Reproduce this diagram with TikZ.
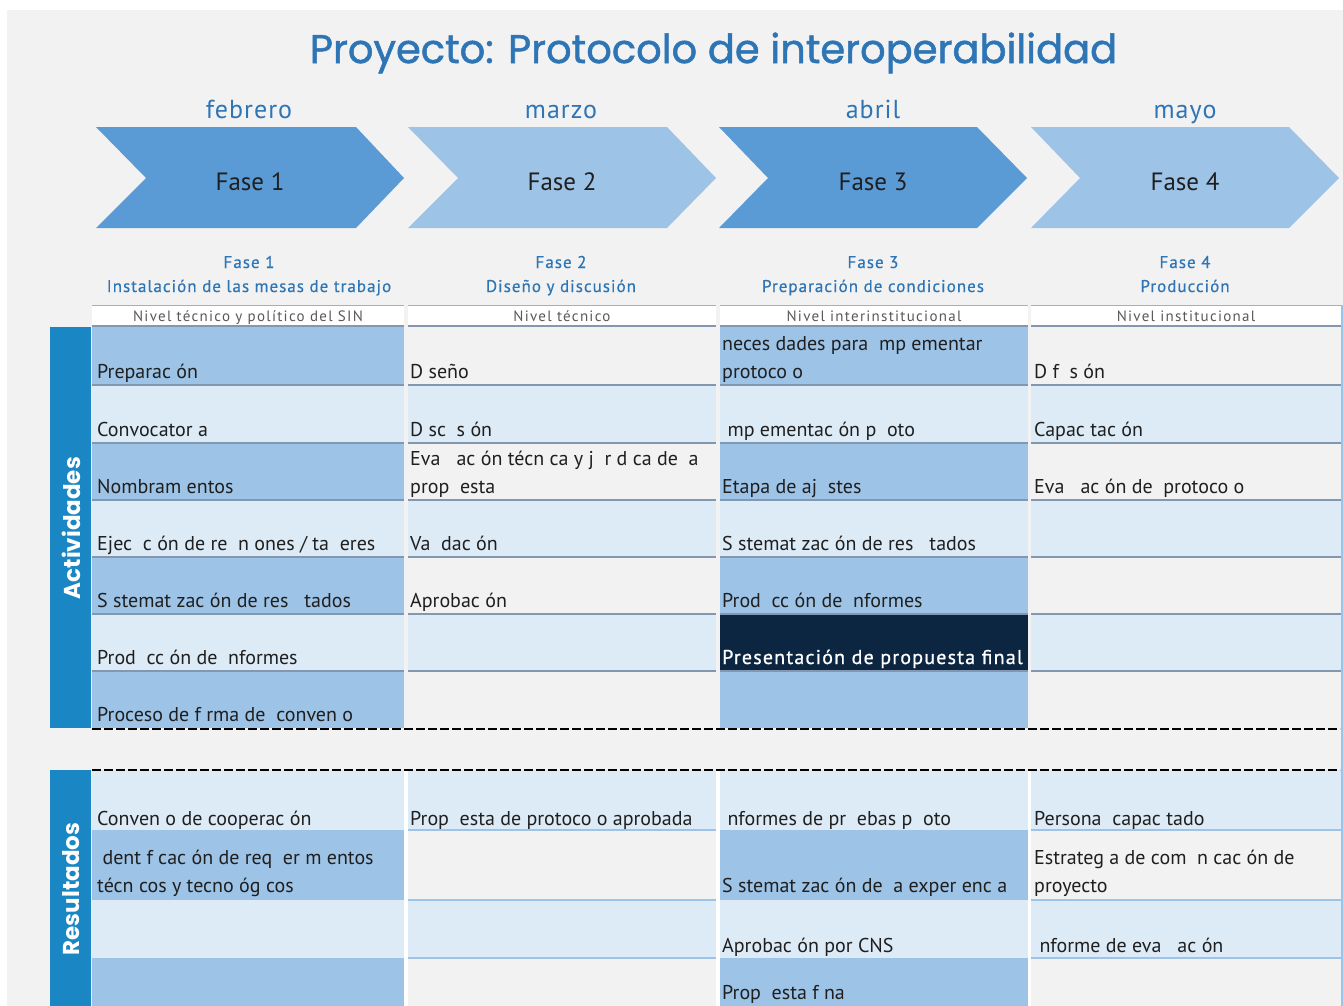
\documentclass[tikz,border=0pt]{standalone}
\usepackage{fontspec}
\setmainfont{PT Sans}
\newfontfamily\titlefont{Poppins}[FakeBold=1.3]
\newfontfamily\sidefont{Poppins}
\newfontfamily\monthfont{PT Sans}[LetterSpace=4]
\newfontfamily\subfont{PT Sans}[LetterSpace=6, FakeBold=0.5]
\newfontfamily\nivfont{PT Sans}[LetterSpace=8.5]
\newfontfamily\presfont{PT Sans}[LetterSpace=6, FakeBold=0.8]
\definecolor{pagebg}{HTML}{F2F2F2}
\definecolor{titleblue}{HTML}{2E75B6}
\definecolor{chevA}{HTML}{5B9BD5}
\definecolor{chevB}{HTML}{9DC3E6}
\definecolor{dkcell}{HTML}{9DC3E6}
\definecolor{ltcell}{HTML}{DDEBF7}
\definecolor{navy}{HTML}{0C2641}
\definecolor{barblue}{HTML}{1A86C4}
\definecolor{rowline}{HTML}{8497B0}
\definecolor{txt}{HTML}{1F1F1F}
\definecolor{nivtxt}{HTML}{595959}
\definecolor{nivtop}{HTML}{A9A9CC}
\tikzset{
  celltext/.style={anchor=base west, inner sep=0pt, text=txt, font=\fontsize{20}{23}\selectfont},
  month/.style={anchor=base, inner sep=0pt, text=titleblue, font=\monthfont\fontsize{26}{28}\selectfont},
  chevtext/.style={anchor=base, inner sep=0pt, text=txt, font=\fontsize{25}{28}\selectfont},
  subtext/.style={anchor=base, inner sep=0pt, text=titleblue, font=\subfont\fontsize{17}{19}\selectfont},
  nivtext/.style={anchor=base, inner sep=0pt, text=nivtxt, font=\nivfont\fontsize{15}{17}\selectfont},
  sidelabel/.style={inner sep=0pt, text=white, rotate=90, font=\sidefont\bfseries\fontsize{23}{26}\selectfont},
  aline/.style={draw=rowline, line width=2.5pt},
  rline/.style={draw=dkcell, line width=2.5pt},
  dashsep/.style={draw=black, line width=2.4pt, dash pattern=on 9pt off 3pt},
}
\newcommand{\cellbox}[5]{\fill[#5] (#1,#2) rectangle (#3,#4);}
\begin{document}
\begin{tikzpicture}[x=1pt,y=-1pt]
\useasboundingbox (0,0) rectangle (1343,1005);
\fill[white] (0,0) rectangle (1343,1005);
\fill[pagebg] (7,10) rectangle (1343,1010);

% title
\node[anchor=base, inner sep=0pt, text=titleblue, font=\titlefont\fontsize{40}{44}\selectfont] (title) at (713.5,63) {Proyecto: Protocolo de interoperabilidad};

% months
\node[month] (m1) at (249,118) {febrero};
\node[month] (m2) at (561,118) {marzo};
\node[month] (m3) at (873,118) {abril};
\node[month] (m4) at (1185,118) {mayo};

% chevrons
\fill[chevA] (96,127) -- (356,127) -- (404,178) -- (356,228) -- (96,228) -- (146,178) -- cycle;
\fill[chevB] (408,127) -- (667,127) -- (716,178) -- (667,228) -- (408,228) -- (458,178) -- cycle;
\fill[chevA] (719,127) -- (977,127) -- (1027,178) -- (977,228) -- (719,228) -- (768,178) -- cycle;
\fill[chevB] (1031,127) -- (1289,127) -- (1339,178) -- (1289,228) -- (1031,228) -- (1080,178) -- cycle;
\node[chevtext] (f1) at (250,190) {Fase 1};
\node[chevtext] (f2) at (562,190) {Fase 2};
\node[chevtext] (f3) at (873,190) {Fase 3};
\node[chevtext] (f4) at (1185,190) {Fase 4};

% sub headings
\node[subtext] (s1a) at (249,268) {Fase 1};
\node[subtext] (s1b) at (249,292) {Instalación de las mesas de trabajo};
\node[subtext] (s2a) at (561,268) {Fase 2};
\node[subtext] (s2b) at (561,292) {Diseño y discusión};
\node[subtext] (s3a) at (873,268) {Fase 3};
\node[subtext] (s3b) at (873,292) {Preparación de condiciones};
\node[subtext] (s4a) at (1185,268) {Fase 4};
\node[subtext] (s4b) at (1185,292) {Producción};

% nivel header row
\foreach \xa/\xb in {92/404,408/716,720/1028,1031/1341}{
  \fill[white] (\xa,305) rectangle (\xb,326);
  \draw[nivtop, line width=1pt] (\xa,305.5) -- (\xb,305.5);
  \draw[rowline, line width=2pt] (\xa,326) -- (\xb,326);
}
\node[nivtext] (n1) at (248,321) {Nivel técnico y político del SIN};
\node[nivtext] (n2) at (562,321) {Nivel técnico};
\node[nivtext] (n3) at (874,321) {Nivel interinstitucional};
\node[nivtext] (n4) at (1186,321) {Nivel institucional};

% ---------- Activities cells ----------
% col1
\cellbox{92}{327}{404}{385}{dkcell}
\cellbox{92}{385}{404}{443}{ltcell}
\cellbox{92}{443}{404}{500}{dkcell}
\cellbox{92}{500}{404}{557}{ltcell}
\cellbox{92}{557}{404}{614}{dkcell}
\cellbox{92}{614}{404}{671}{ltcell}
\cellbox{92}{671}{404}{728}{dkcell}
% col2
\cellbox{408}{385}{716}{443}{ltcell}
\cellbox{408}{500}{716}{557}{ltcell}
\cellbox{408}{614}{716}{671}{ltcell}
% col3
\cellbox{720}{327}{1028}{385}{dkcell}
\cellbox{720}{385}{1028}{443}{ltcell}
\cellbox{720}{443}{1028}{500}{dkcell}
\cellbox{720}{500}{1028}{557}{ltcell}
\cellbox{720}{557}{1028}{614}{dkcell}
\cellbox{720}{614}{1028}{671}{navy}
\cellbox{720}{671}{1028}{728}{dkcell}
% col4
\cellbox{1031}{385}{1341}{443}{ltcell}
\cellbox{1031}{500}{1341}{557}{ltcell}
\cellbox{1031}{614}{1341}{671}{ltcell}
% row lines
\foreach \yy in {385,443,500,557,614,671}{
  \foreach \xa/\xb in {92/404,408/716,720/1028,1031/1341}{
    \draw[aline] (\xa,\yy) -- (\xb,\yy);
  }
}

% ---------- Results cells ----------
\cellbox{92}{770}{404}{830}{ltcell}
\cellbox{92}{830}{404}{900}{dkcell}
\cellbox{92}{900}{404}{958}{ltcell}
\cellbox{92}{958}{404}{1010}{dkcell}
\cellbox{408}{770}{716}{830}{ltcell}
\cellbox{408}{900}{716}{958}{ltcell}
\cellbox{720}{770}{1028}{830}{ltcell}
\cellbox{720}{830}{1028}{900}{dkcell}
\cellbox{720}{900}{1028}{958}{ltcell}
\cellbox{720}{958}{1028}{1010}{dkcell}
\cellbox{1031}{770}{1341}{830}{ltcell}
\cellbox{1031}{900}{1341}{958}{ltcell}
\foreach \yy in {830,900,958}{
  \draw[rline] (408,\yy) -- (716,\yy);
  \draw[rline] (1031,\yy) -- (1341,\yy);
}
\fill[white] (404,770) rectangle (408,1010);
\fill[white] (716,770) rectangle (720,1010);
\fill[white] (1028,770) rectangle (1031,1010);
\draw[dkcell, line width=2pt] (1342,305) -- (1342,1010);

% side labels
\fill[barblue] (50,327) rectangle (91,728);
\fill[barblue] (50,770) rectangle (91,1010);
\node[sidelabel] (act) at (71,528) {Actividades};
\node[sidelabel] (res) at (71,889) {Resultados};

% dashed separators
\coordinate (d1a) at (92,729);
\coordinate (d1b) at (1340,729);
\coordinate (d2a) at (92,770);
\coordinate (d2b) at (1340,770);
\draw[dashsep] (d1a) -- (d1b);
\draw[dashsep] (d2a) -- (d2b);

% ---------- Activities texts ----------
\node[celltext] (a11) at (97,378) {Preparac ón};
\node[celltext] (a12) at (97,436) {Convocator a};
\node[celltext] (a13) at (97,493) {Nombram entos};
\node[celltext] (a14) at (97,550) {Ejec\ \ c ón de re\ \ n ones / ta\ \ eres};
\node[celltext] (a15) at (97,607) {S stemat zac ón de res\ \ \ tados};
\node[celltext] (a16) at (97,664) {Prod\ \ cc ón de\ \ nformes};
\node[celltext] (a17) at (97,721) {Proceso de f rma de\ \ conven o};

\node[celltext] (a21) at (410,378) {D seño};
\node[celltext] (a22) at (410,436) {D sc\ \ s ón};
\node[celltext] (a23a) at (410,465) {Eva\ \ \ ac ón técn ca y j\ \ r d ca de\ \ a};
\node[celltext] (a23b) at (410,493) {prop\ \ esta};
\node[celltext] (a24) at (410,550) {Va\ \ dac ón};
\node[celltext] (a25) at (410,607) {Aprobac ón};

\node[celltext] (a31a) at (722,350) {neces dades para\ \ mp ementar};
\node[celltext] (a31b) at (722,378) {protoco o};
\node[celltext] (a32) at (722,436) {\ mp ementac ón p\ \ oto};
\node[celltext] (a33) at (722,493) {Etapa de aj\ \ stes};
\node[celltext] (a34) at (722,550) {S stemat zac ón de res\ \ \ tados};
\node[celltext] (a35) at (722,607) {Prod\ \ cc ón de\ \ nformes};
\node[celltext, text=white, font=\presfont\fontsize{20}{23}\selectfont] (a36) at (722,664) {Presentación de propuesta final};

\node[celltext] (a41) at (1034,378) {D f\ \ s ón};
\node[celltext] (a42) at (1034,436) {Capac tac ón};
\node[celltext] (a43) at (1034,493) {Eva\ \ \ ac ón de\ \ protoco o};

% ---------- Results texts ----------
\node[celltext] (r11) at (97,825) {Conven o de cooperac ón};
\node[celltext] (r12a) at (97,864) {\ dent f cac ón de req\ \ er m entos};
\node[celltext] (r12b) at (97,892) {técn cos y tecno óg cos};
\node[celltext] (r21) at (410,825) {Prop\ \ esta de protoco o aprobada};
\node[celltext] (r31) at (722,825) {\ nformes de pr\ \ ebas p\ \ oto};
\node[celltext] (r32) at (722,892) {S stemat zac ón de\ \ a exper enc a};
\node[celltext] (r33) at (722,952) {Aprobac ón por CNS};
\node[celltext] (r34) at (722,999) {Prop\ \ esta f na};
\node[celltext] (r41) at (1034,825) {Persona\ \ capac tado};
\node[celltext] (r42a) at (1034,864) {Estrateg a de com\ \ n cac ón de};
\node[celltext] (r42b) at (1034,892) {proyecto};
\node[celltext] (r43) at (1034,952) {\ nforme de eva\ \ \ ac ón};
\end{tikzpicture}
\end{document}
